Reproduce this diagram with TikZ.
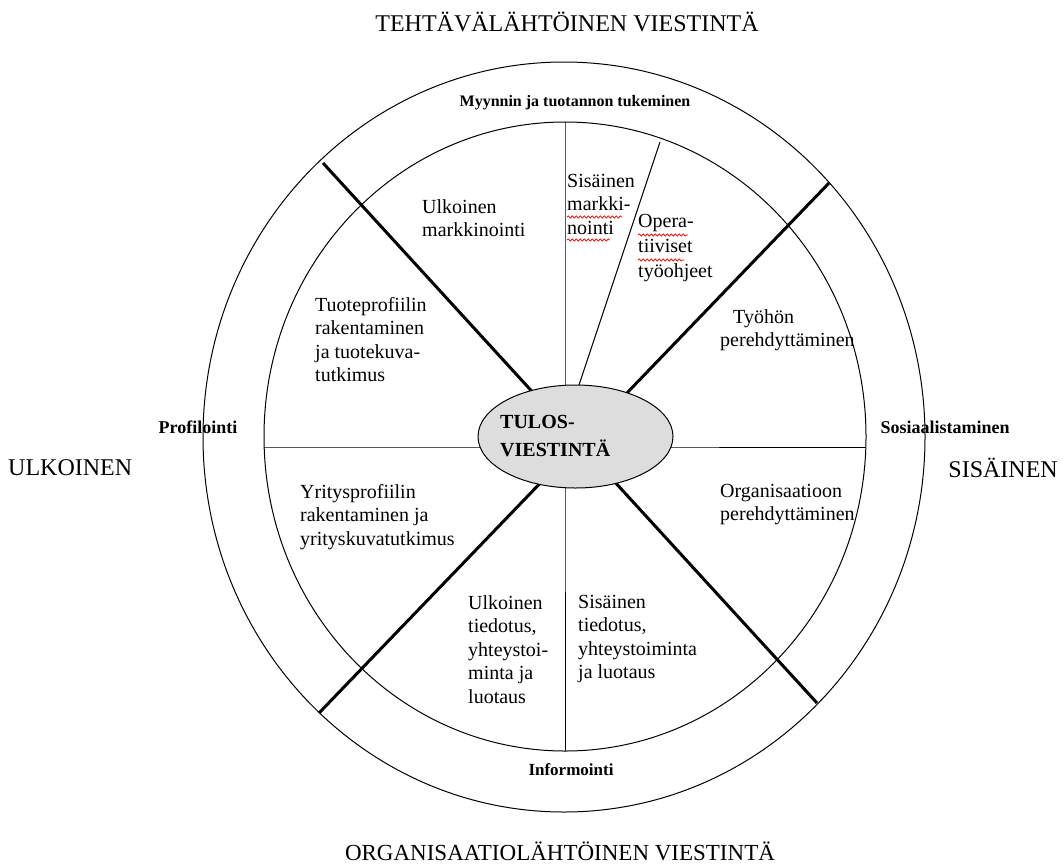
\documentclass[tikz,border=0pt]{standalone}
\usepackage{fontspec}
\setmainfont{Liberation Serif}
\usetikzlibrary{shapes.geometric,decorations.pathmorphing}
\pgfdeclarelayer{bg}
\pgfsetlayers{bg,main}
\definecolor{coregray}{RGB}{221,221,221}
\begin{document}
\begin{tikzpicture}[x=1pt,y=-1pt,
  ring/.style={line width=1pt},
  spoke/.style={line width=1pt},
  thickspoke/.style={line width=3pt},
  body/.style={font=\fontsize{20}{23.5}\selectfont, align=left, inner sep=0pt, anchor=north west},
  sector/.style={font=\bfseries\fontsize{17}{19}\selectfont, inner sep=0pt},
  axis/.style={font=\fontsize{24}{26}\selectfont, inner sep=0pt},
  spell/.style={red, line width=0.7pt, decorate, decoration={snake, amplitude=1.2pt, segment length=4pt}}
]
\useasboundingbox (0,0) rectangle (1064,865);

% outer and inner rings
\draw[ring] (564,437) ellipse [x radius=361pt, y radius=375pt];
\draw[ring] (565,436.5) ellipse [x radius=301pt, y radius=314.5pt];

% centre
\node[draw, ellipse, fill=coregray, line width=1pt, inner sep=0pt,
      minimum width=195pt, minimum height=103pt] (core) at (575.5,436.5) {};
\node[font=\bfseries\fontsize{20}{28}\selectfont, align=left, anchor=west, inner sep=0pt]
  (coretxt) at (500,436) {TULOS-\\VIESTINTÄ};

% spokes
\coordinate (ulOut) at (323,163);
\coordinate (lrOut) at (817,703);
\coordinate (urOut) at (829,183);
\coordinate (llOut) at (319,713);
\coordinate (inTop) at (565,122);
\coordinate (inBot) at (565,751);
\coordinate (inL) at (264,447);
\coordinate (inR) at (866,447);
\coordinate (slTop) at (660,142);
\coordinate (slBot) at (570,412);
\begin{pgfonlayer}{bg}
  \draw[thickspoke] (ulOut) -- (lrOut);
  \draw[thickspoke] (urOut) -- (llOut);
  \draw[spoke] (inTop) -- (core.center -| inTop) -- (inBot);
  \draw[spoke] (inL) -- (core.center |- inL) -- (inR);
  \draw[spoke] (slTop) -- (slBot);
\end{pgfonlayer}

% ring labels
\node[sector, font=\bfseries\fontsize{16}{18}\selectfont] (lblTop) at (575,103) {Myynnin ja tuotannon tukeminen};
\node[sector, font=\bfseries\fontsize{18}{20}\selectfont] (lblLeft) at (198,427) {Profilointi};
\node[sector, font=\bfseries\fontsize{18}{20}\selectfont] (lblRight) at (945,427) {Sosiaalistaminen};
\node[sector] (lblBot) at (571,770) {Informointi};

% axis titles
\node[axis] (tTop) at (567,22) {TEHTÄVÄLÄHTÖINEN VIESTINTÄ};
\node[axis, anchor=west] (tLeft) at (8,468) {ULKOINEN};
\node[axis, anchor=east] (tRight) at (1058,468) {SISÄINEN};
\node[axis, font=\fontsize{23}{26}\selectfont] (tBot) at (560,851) {ORGANISAATIOLÄHTÖINEN VIESTINTÄ};

% sector texts
\node[body] (s1) at (422,199) {Ulkoinen\\markkinointi};
\node[body] (s2) at (567,174) {Sisäinen\\markki-\\nointi};
\node[body, font=\fontsize{20}{25}\selectfont] (s3) at (638,214) {Opera-\\tiiviset\\työohjeet};
\node[body] (s4) at (315,297) {Tuoteprofiilin\\rakentaminen\\ja tuotekuva-\\tutkimus};
\node[body] (s5) at (720,309) {\hspace*{13pt}Työhön\\perehdyttäminen};
\node[body] (s6) at (720,484) {Organisaatioon\\perehdyttäminen};
\node[body] (s7) at (300,484) {Yritysprofiilin\\rakentaminen ja\\yrityskuvatutkimus};
\node[body] (s8) at (468,595) {Ulkoinen\\tiedotus,\\yhteystoi-\\minta ja\\luotaus};
\node[body] (s9) at (578,595) {Sisäinen\\tiedotus,\\yhteystoiminta\\ja luotaus};

% proofing marks
\draw[spell] (567,217) -- (622,217);
\draw[spell] (567,240) -- (610,240);
\draw[spell] (638,235) -- (688,235);
\draw[spell] (638,260) -- (684,260);
\end{tikzpicture}
\end{document}
